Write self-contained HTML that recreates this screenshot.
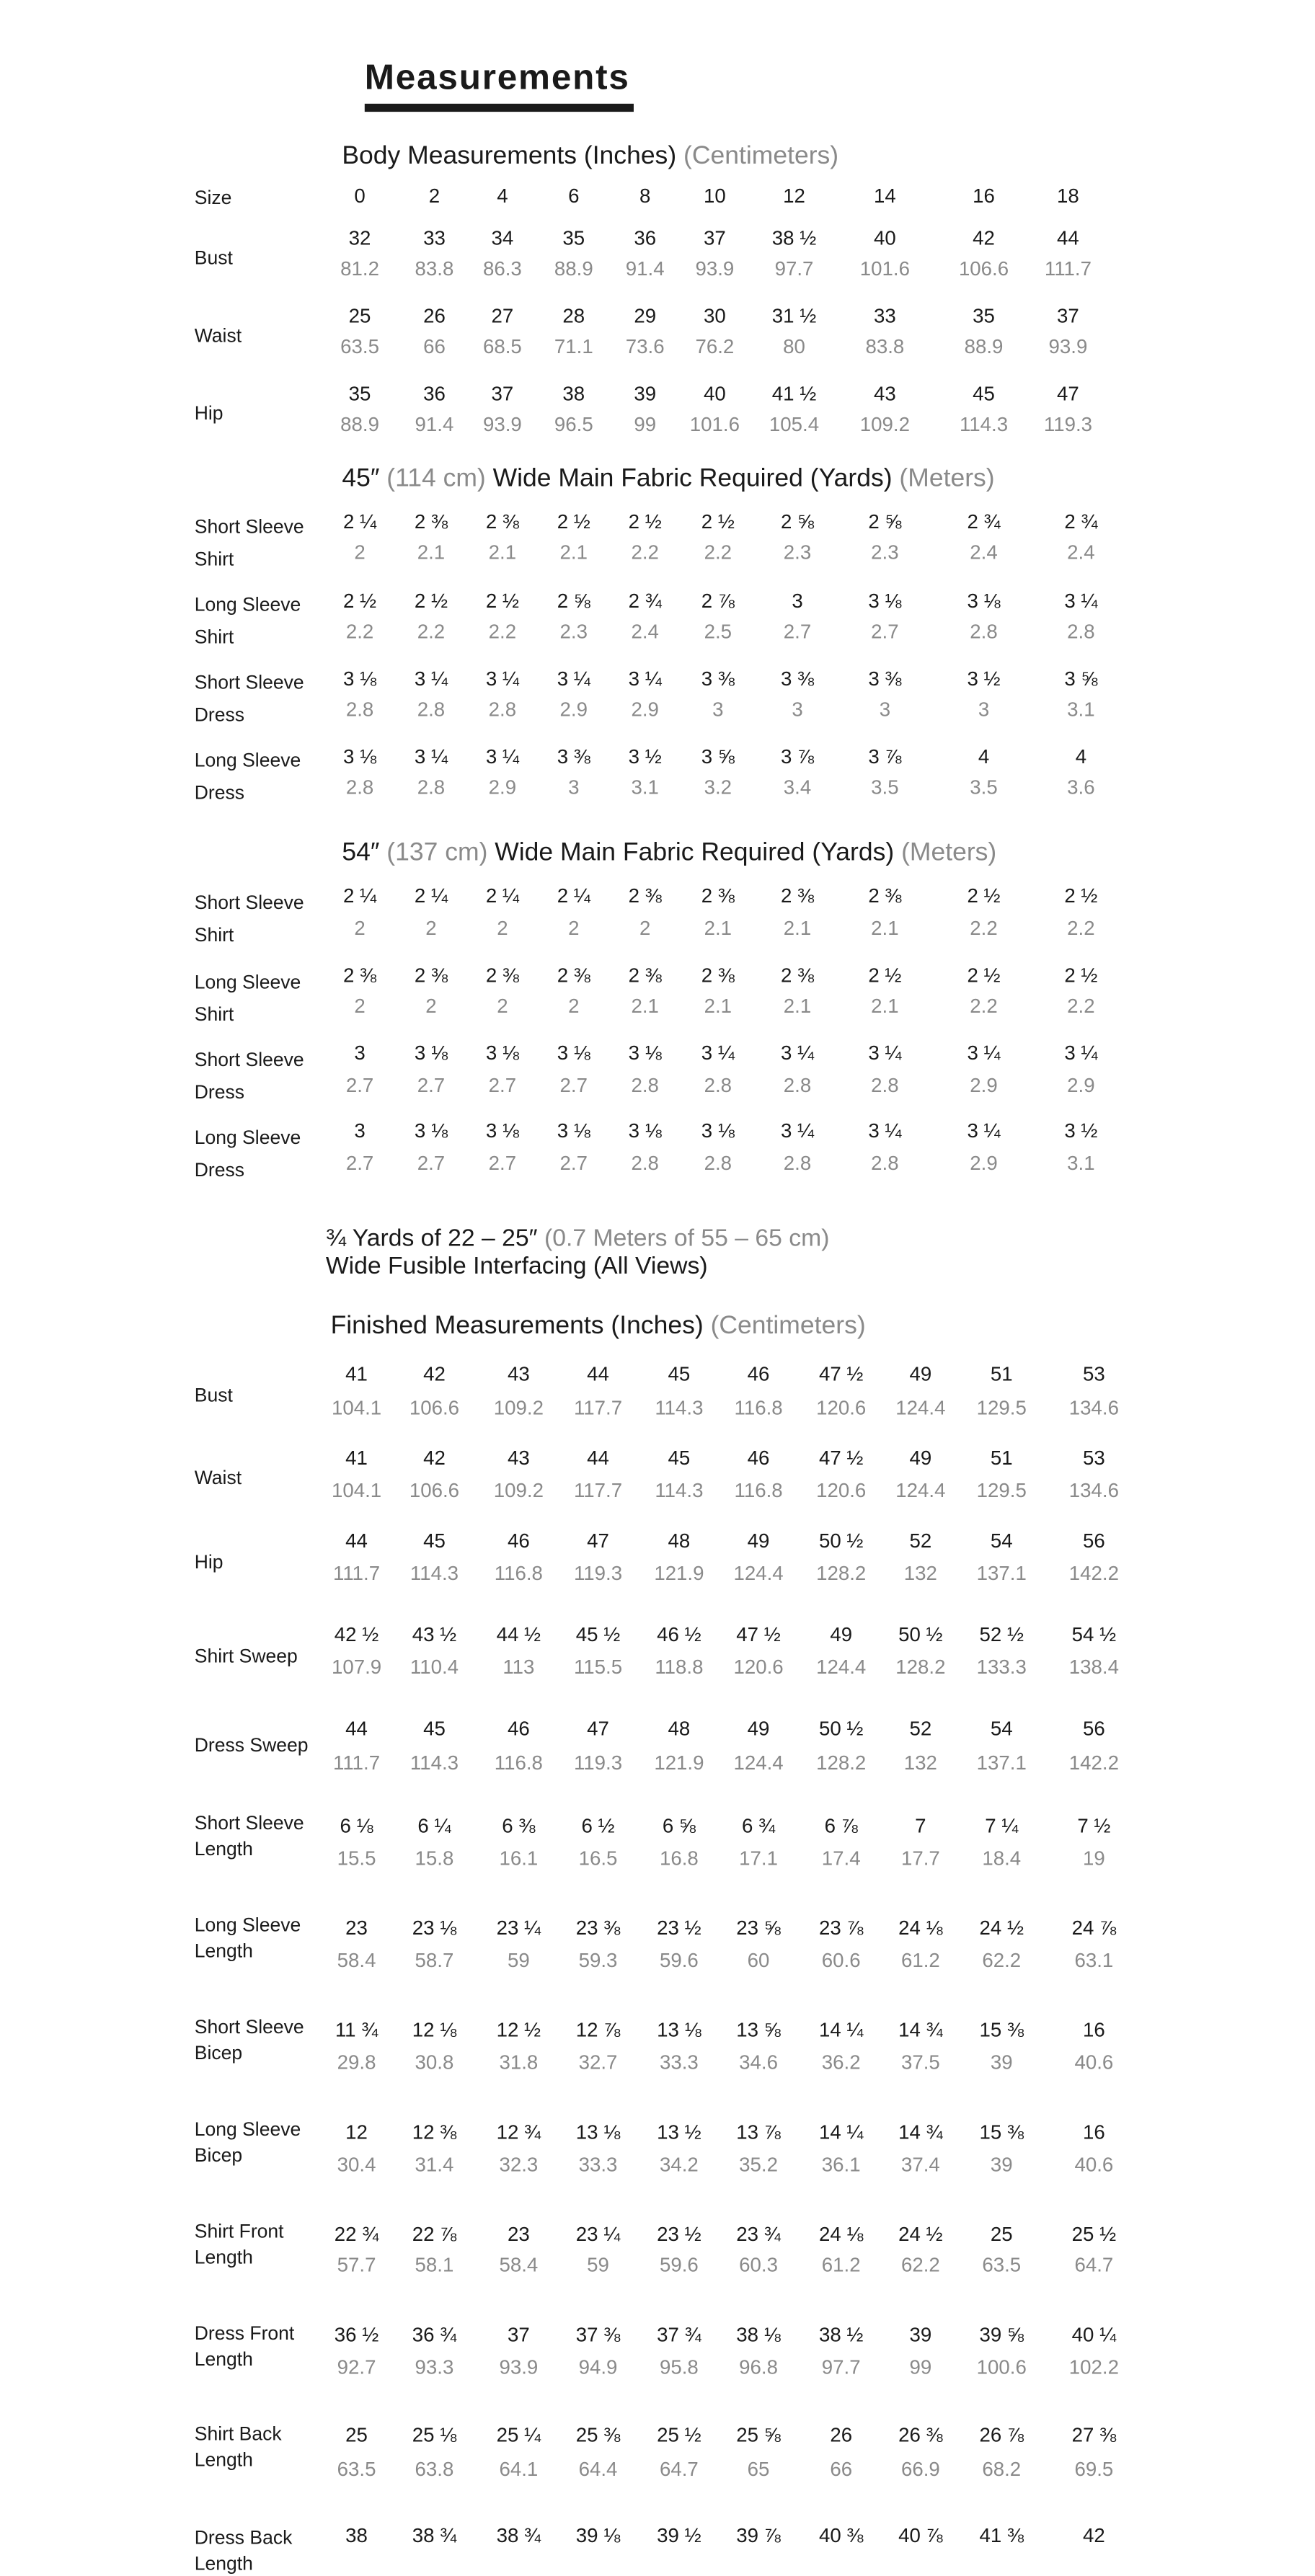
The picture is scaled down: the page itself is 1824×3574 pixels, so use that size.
<!DOCTYPE html>
<html><head><meta charset="utf-8"><style>
html,body{margin:0;padding:0;background:#fff;}
body{width:1824px;height:3525px;overflow:hidden;position:relative;}
#w{position:absolute;left:0;top:0;width:812px;height:1568px;transform-origin:0 0;transform:scale(2.248,2.248);font-family:"Liberation Sans",sans-serif;color:#1a1a1a;}
.t{position:absolute;white-space:nowrap;line-height:16px;}
.h{font-size:15.8px;}
.g{color:#8a8a8a;}
.l{position:absolute;left:120px;font-size:11.8px;line-height:20px;white-space:nowrap;}
.r{position:absolute;left:0;width:800px;height:16px;font-size:12.3px;line-height:16px;}
.r span{position:absolute;transform:translateX(-50%);white-space:nowrap;}
.r.g{color:#8a8a8a;}
.b span:nth-child(1){left:222px}.b span:nth-child(2){left:268px}.b span:nth-child(3){left:310px}.b span:nth-child(4){left:354px}.b span:nth-child(5){left:398px}.b span:nth-child(6){left:441px}.b span:nth-child(7){left:490px}.b span:nth-child(8){left:546px}.b span:nth-child(9){left:607px}.b span:nth-child(10){left:659px}
.f span:nth-child(1){left:222px}.f span:nth-child(2){left:266px}.f span:nth-child(3){left:310px}.f span:nth-child(4){left:354px}.f span:nth-child(5){left:398px}.f span:nth-child(6){left:443px}.f span:nth-child(7){left:492px}.f span:nth-child(8){left:546px}.f span:nth-child(9){left:607px}.f span:nth-child(10){left:667px}
.m span:nth-child(1){left:220px}.m span:nth-child(2){left:268px}.m span:nth-child(3){left:320px}.m span:nth-child(4){left:369px}.m span:nth-child(5){left:419px}.m span:nth-child(6){left:468px}.m span:nth-child(7){left:519px}.m span:nth-child(8){left:568px}.m span:nth-child(9){left:618px}.m span:nth-child(10){left:675px}
</style></head><body><div id="w">
<div class="t" style="left:225px;top:36px;font-size:22px;line-height:24px;font-weight:bold;letter-spacing:0.8px;">Measurements</div>
<div style="position:absolute;left:225px;top:64px;width:166px;height:5px;background:#1a1a1a"></div>

<div class="t h" style="left:211px;top:89px">Body Measurements (Inches) <span class="g">(Centimeters)</span></div>
<div class="l" style="top:112px">Size</div>
<div class="r b" style="top:113px"><span>0</span><span>2</span><span>4</span><span>6</span><span>8</span><span>10</span><span>12</span><span>14</span><span>16</span><span>18</span></div>
<div class="l" style="top:149px">Bust</div>
<div class="r b" style="top:139px"><span>32</span><span>33</span><span>34</span><span>35</span><span>36</span><span>37</span><span>38 ½</span><span>40</span><span>42</span><span>44</span></div>
<div class="r b g" style="top:158px"><span>81.2</span><span>83.8</span><span>86.3</span><span>88.9</span><span>91.4</span><span>93.9</span><span>97.7</span><span>101.6</span><span>106.6</span><span>111.7</span></div>
<div class="l" style="top:197px">Waist</div>
<div class="r b" style="top:187px"><span>25</span><span>26</span><span>27</span><span>28</span><span>29</span><span>30</span><span>31 ½</span><span>33</span><span>35</span><span>37</span></div>
<div class="r b g" style="top:206px"><span>63.5</span><span>66</span><span>68.5</span><span>71.1</span><span>73.6</span><span>76.2</span><span>80</span><span>83.8</span><span>88.9</span><span>93.9</span></div>
<div class="l" style="top:245px">Hip</div>
<div class="r b" style="top:235px"><span>35</span><span>36</span><span>37</span><span>38</span><span>39</span><span>40</span><span>41 ½</span><span>43</span><span>45</span><span>47</span></div>
<div class="r b g" style="top:254px"><span>88.9</span><span>91.4</span><span>93.9</span><span>96.5</span><span>99</span><span>101.6</span><span>105.4</span><span>109.2</span><span>114.3</span><span>119.3</span></div>

<div class="t h" style="left:211px;top:288px">45″ <span class="g">(114 cm)</span> Wide Main Fabric Required (Yards) <span class="g">(Meters)</span></div>
<div class="l" style="top:315px">Short Sleeve<br>Shirt</div>
<div class="r f" style="top:314px"><span>2 ¼</span><span>2 ⅜</span><span>2 ⅜</span><span>2 ½</span><span>2 ½</span><span>2 ½</span><span>2 ⅝</span><span>2 ⅝</span><span>2 ¾</span><span>2 ¾</span></div>
<div class="r f g" style="top:333px"><span>2</span><span>2.1</span><span>2.1</span><span>2.1</span><span>2.2</span><span>2.2</span><span>2.3</span><span>2.3</span><span>2.4</span><span>2.4</span></div>
<div class="l" style="top:363px">Long Sleeve<br>Shirt</div>
<div class="r f" style="top:363px"><span>2 ½</span><span>2 ½</span><span>2 ½</span><span>2 ⅝</span><span>2 ¾</span><span>2 ⅞</span><span>3</span><span>3 ⅛</span><span>3 ⅛</span><span>3 ¼</span></div>
<div class="r f g" style="top:382px"><span>2.2</span><span>2.2</span><span>2.2</span><span>2.3</span><span>2.4</span><span>2.5</span><span>2.7</span><span>2.7</span><span>2.8</span><span>2.8</span></div>
<div class="l" style="top:411px">Short Sleeve<br>Dress</div>
<div class="r f" style="top:411px"><span>3 ⅛</span><span>3 ¼</span><span>3 ¼</span><span>3 ¼</span><span>3 ¼</span><span>3 ⅜</span><span>3 ⅜</span><span>3 ⅜</span><span>3 ½</span><span>3 ⅝</span></div>
<div class="r f g" style="top:430px"><span>2.8</span><span>2.8</span><span>2.8</span><span>2.9</span><span>2.9</span><span>3</span><span>3</span><span>3</span><span>3</span><span>3.1</span></div>
<div class="l" style="top:459px">Long Sleeve<br>Dress</div>
<div class="r f" style="top:459px"><span>3 ⅛</span><span>3 ¼</span><span>3 ¼</span><span>3 ⅜</span><span>3 ½</span><span>3 ⅝</span><span>3 ⅞</span><span>3 ⅞</span><span>4</span><span>4</span></div>
<div class="r f g" style="top:478px"><span>2.8</span><span>2.8</span><span>2.9</span><span>3</span><span>3.1</span><span>3.2</span><span>3.4</span><span>3.5</span><span>3.5</span><span>3.6</span></div>

<div class="t h" style="left:211px;top:519px">54″ <span class="g">(137 cm)</span> Wide Main Fabric Required (Yards) <span class="g">(Meters)</span></div>
<div class="l" style="top:547px">Short Sleeve<br>Shirt</div>
<div class="r f" style="top:545px"><span>2 ¼</span><span>2 ¼</span><span>2 ¼</span><span>2 ¼</span><span>2 ⅜</span><span>2 ⅜</span><span>2 ⅜</span><span>2 ⅜</span><span>2 ½</span><span>2 ½</span></div>
<div class="r f g" style="top:565px"><span>2</span><span>2</span><span>2</span><span>2</span><span>2</span><span>2.1</span><span>2.1</span><span>2.1</span><span>2.2</span><span>2.2</span></div>
<div class="l" style="top:596px">Long Sleeve<br>Shirt</div>
<div class="r f" style="top:594px"><span>2 ⅜</span><span>2 ⅜</span><span>2 ⅜</span><span>2 ⅜</span><span>2 ⅜</span><span>2 ⅜</span><span>2 ⅜</span><span>2 ½</span><span>2 ½</span><span>2 ½</span></div>
<div class="r f g" style="top:613px"><span>2</span><span>2</span><span>2</span><span>2</span><span>2.1</span><span>2.1</span><span>2.1</span><span>2.1</span><span>2.2</span><span>2.2</span></div>
<div class="l" style="top:644px">Short Sleeve<br>Dress</div>
<div class="r f" style="top:642px"><span>3</span><span>3 ⅛</span><span>3 ⅛</span><span>3 ⅛</span><span>3 ⅛</span><span>3 ¼</span><span>3 ¼</span><span>3 ¼</span><span>3 ¼</span><span>3 ¼</span></div>
<div class="r f g" style="top:662px"><span>2.7</span><span>2.7</span><span>2.7</span><span>2.7</span><span>2.8</span><span>2.8</span><span>2.8</span><span>2.8</span><span>2.9</span><span>2.9</span></div>
<div class="l" style="top:692px">Long Sleeve<br>Dress</div>
<div class="r f" style="top:690px"><span>3</span><span>3 ⅛</span><span>3 ⅛</span><span>3 ⅛</span><span>3 ⅛</span><span>3 ⅛</span><span>3 ¼</span><span>3 ¼</span><span>3 ¼</span><span>3 ½</span></div>
<div class="r f g" style="top:710px"><span>2.7</span><span>2.7</span><span>2.7</span><span>2.7</span><span>2.8</span><span>2.8</span><span>2.8</span><span>2.8</span><span>2.9</span><span>3.1</span></div>

<div class="t h" style="left:201px;top:757px;font-size:15px">¾ Yards of 22 – 25″ <span class="g">(0.7 Meters of 55 – 65 cm)</span></div>
<div class="t h" style="left:201px;top:774px;font-size:15px">Wide Fusible Interfacing (All Views)</div>

<div class="t h" style="left:204px;top:811px">Finished Measurements (Inches) <span class="g">(Centimeters)</span></div>
<div class="l" style="top:851px">Bust</div>
<div class="r m" style="top:840px"><span>41</span><span>42</span><span>43</span><span>44</span><span>45</span><span>46</span><span>47 ½</span><span>49</span><span>51</span><span>53</span></div>
<div class="r m g" style="top:861px"><span>104.1</span><span>106.6</span><span>109.2</span><span>117.7</span><span>114.3</span><span>116.8</span><span>120.6</span><span>124.4</span><span>129.5</span><span>134.6</span></div>
<div class="l" style="top:902px">Waist</div>
<div class="r m" style="top:892px"><span>41</span><span>42</span><span>43</span><span>44</span><span>45</span><span>46</span><span>47 ½</span><span>49</span><span>51</span><span>53</span></div>
<div class="r m g" style="top:912px"><span>104.1</span><span>106.6</span><span>109.2</span><span>117.7</span><span>114.3</span><span>116.8</span><span>120.6</span><span>124.4</span><span>129.5</span><span>134.6</span></div>
<div class="l" style="top:954px">Hip</div>
<div class="r m" style="top:943px"><span>44</span><span>45</span><span>46</span><span>47</span><span>48</span><span>49</span><span>50 ½</span><span>52</span><span>54</span><span>56</span></div>
<div class="r m g" style="top:963px"><span>111.7</span><span>114.3</span><span>116.8</span><span>119.3</span><span>121.9</span><span>124.4</span><span>128.2</span><span>132</span><span>137.1</span><span>142.2</span></div>
<div class="l" style="top:1012px">Shirt Sweep</div>
<div class="r m" style="top:1001px"><span>42 ½</span><span>43 ½</span><span>44 ½</span><span>45 ½</span><span>46 ½</span><span>47 ½</span><span>49</span><span>50 ½</span><span>52 ½</span><span>54 ½</span></div>
<div class="r m g" style="top:1021px"><span>107.9</span><span>110.4</span><span>113</span><span>115.5</span><span>118.8</span><span>120.6</span><span>124.4</span><span>128.2</span><span>133.3</span><span>138.4</span></div>
<div class="l" style="top:1067px">Dress Sweep</div>
<div class="r m" style="top:1059px"><span>44</span><span>45</span><span>46</span><span>47</span><span>48</span><span>49</span><span>50 ½</span><span>52</span><span>54</span><span>56</span></div>
<div class="r m g" style="top:1080px"><span>111.7</span><span>114.3</span><span>116.8</span><span>119.3</span><span>121.9</span><span>124.4</span><span>128.2</span><span>132</span><span>137.1</span><span>142.2</span></div>
<div class="l" style="top:1117px;line-height:16px">Short Sleeve<br>Length</div>
<div class="r m" style="top:1119px"><span>6 ⅛</span><span>6 ¼</span><span>6 ⅜</span><span>6 ½</span><span>6 ⅝</span><span>6 ¾</span><span>6 ⅞</span><span>7</span><span>7 ¼</span><span>7 ½</span></div>
<div class="r m g" style="top:1139px"><span>15.5</span><span>15.8</span><span>16.1</span><span>16.5</span><span>16.8</span><span>17.1</span><span>17.4</span><span>17.7</span><span>18.4</span><span>19</span></div>
<div class="l" style="top:1180px;line-height:16px">Long Sleeve<br>Length</div>
<div class="r m" style="top:1182px"><span>23</span><span>23 ⅛</span><span>23 ¼</span><span>23 ⅜</span><span>23 ½</span><span>23 ⅝</span><span>23 ⅞</span><span>24 ⅛</span><span>24 ½</span><span>24 ⅞</span></div>
<div class="r m g" style="top:1202px"><span>58.4</span><span>58.7</span><span>59</span><span>59.3</span><span>59.6</span><span>60</span><span>60.6</span><span>61.2</span><span>62.2</span><span>63.1</span></div>
<div class="l" style="top:1243px;line-height:16px">Short Sleeve<br>Bicep</div>
<div class="r m" style="top:1245px"><span>11 ¾</span><span>12 ⅛</span><span>12 ½</span><span>12 ⅞</span><span>13 ⅛</span><span>13 ⅝</span><span>14 ¼</span><span>14 ¾</span><span>15 ⅜</span><span>16</span></div>
<div class="r m g" style="top:1265px"><span>29.8</span><span>30.8</span><span>31.8</span><span>32.7</span><span>33.3</span><span>34.6</span><span>36.2</span><span>37.5</span><span>39</span><span>40.6</span></div>
<div class="l" style="top:1306px;line-height:16px">Long Sleeve<br>Bicep</div>
<div class="r m" style="top:1308px"><span>12</span><span>12 ⅜</span><span>12 ¾</span><span>13 ⅛</span><span>13 ½</span><span>13 ⅞</span><span>14 ¼</span><span>14 ¾</span><span>15 ⅜</span><span>16</span></div>
<div class="r m g" style="top:1328px"><span>30.4</span><span>31.4</span><span>32.3</span><span>33.3</span><span>34.2</span><span>35.2</span><span>36.1</span><span>37.4</span><span>39</span><span>40.6</span></div>
<div class="l" style="top:1369px;line-height:16px">Shirt Front<br>Length</div>
<div class="r m" style="top:1371px"><span>22 ¾</span><span>22 ⅞</span><span>23</span><span>23 ¼</span><span>23 ½</span><span>23 ¾</span><span>24 ⅛</span><span>24 ½</span><span>25</span><span>25 ½</span></div>
<div class="r m g" style="top:1390px"><span>57.7</span><span>58.1</span><span>58.4</span><span>59</span><span>59.6</span><span>60.3</span><span>61.2</span><span>62.2</span><span>63.5</span><span>64.7</span></div>
<div class="l" style="top:1432px;line-height:16px">Dress Front<br>Length</div>
<div class="r m" style="top:1433px"><span>36 ½</span><span>36 ¾</span><span>37</span><span>37 ⅜</span><span>37 ¾</span><span>38 ⅛</span><span>38 ½</span><span>39</span><span>39 ⅝</span><span>40 ¼</span></div>
<div class="r m g" style="top:1453px"><span>92.7</span><span>93.3</span><span>93.9</span><span>94.9</span><span>95.8</span><span>96.8</span><span>97.7</span><span>99</span><span>100.6</span><span>102.2</span></div>
<div class="l" style="top:1494px;line-height:16px">Shirt Back<br>Length</div>
<div class="r m" style="top:1495px"><span>25</span><span>25 ⅛</span><span>25 ¼</span><span>25 ⅜</span><span>25 ½</span><span>25 ⅝</span><span>26</span><span>26 ⅜</span><span>26 ⅞</span><span>27 ⅜</span></div>
<div class="r m g" style="top:1516px"><span>63.5</span><span>63.8</span><span>64.1</span><span>64.4</span><span>64.7</span><span>65</span><span>66</span><span>66.9</span><span>68.2</span><span>69.5</span></div>
<div class="l" style="top:1558px;line-height:16px">Dress Back<br>Length</div>
<div class="r m" style="top:1557px"><span>38</span><span>38 ¾</span><span>38 ¾</span><span>39 ⅛</span><span>39 ½</span><span>39 ⅞</span><span>40 ⅜</span><span>40 ⅞</span><span>41 ⅜</span><span>42</span></div>
</div></body></html>
